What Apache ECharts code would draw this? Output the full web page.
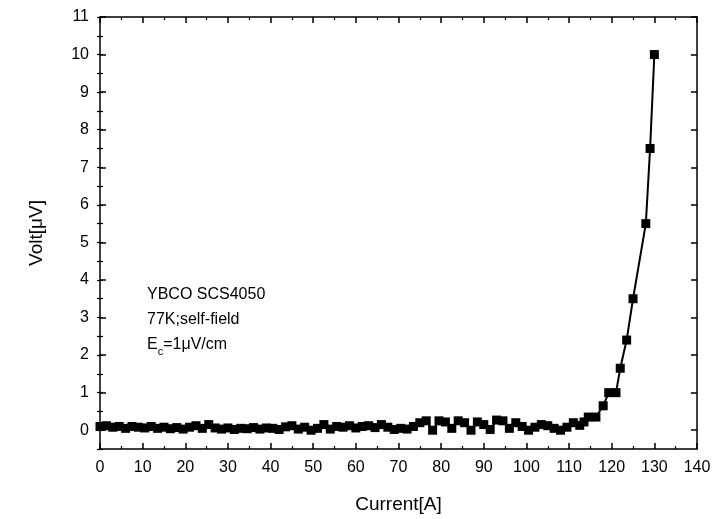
<!DOCTYPE html>
<html>
<head>
<meta charset="utf-8">
<script src="https://cdn.jsdelivr.net/npm/echarts@6/dist/echarts.min.js"></script>
<style>html,body{margin:0;padding:0;background:#fff;}#c{width:714px;height:519px;}</style>
</head>
<body>
<div id="c"></div>
<script>
var currents = [0,1.5,3,4.5,6,7.5,9,10.5,12,13.5,15,16.5,18,19.5,21,22.5,24,25.5,27,28.5,30,31.5,33,34.5,36,37.5,39,40.5,42,43.5,45,46.5,48,49.5,51,52.5,54,55.5,57,58.5,60,61.5,63,64.5,66,67.5,69,70.5,72,73.5,75,76.5,78,79.5,81,82.5,84,85.5,87,88.5,90,91.5,93,94.5,96,97.5,99,100.5,102,103.5,105,106.5,108,109.5,111,112.5,113.5,114.5,116.3,118,119.3,121,122,123.5,125,128,129,130];
var volts = [0.1,0.12,0.08,0.1,0.05,0.1,0.08,0.06,0.1,0.05,0.08,0.04,0.07,0.03,0.08,0.12,0.05,0.15,0.06,0.03,0.06,0.02,0.05,0.04,0.07,0.03,0.06,0.05,0.02,0.09,0.12,0.03,0.08,0.0,0.05,0.15,0.03,0.1,0.08,0.12,0.06,0.1,0.12,0.07,0.15,0.08,0.02,0.05,0.03,0.1,0.2,0.25,0.0,0.25,0.22,0.05,0.25,0.2,0.0,0.22,0.15,0.02,0.27,0.25,0.05,0.2,0.1,0.0,0.08,0.15,0.12,0.05,0.0,0.08,0.2,0.13,0.22,0.35,0.35,0.65,1.0,1.0,1.65,2.4,3.5,5.5,7.5,10.0];
var yTickValues = [0,1,2,3,4,5,6,7,8,9,10,11];
var annotationLines = ['YBCO SCS4050', '77K;self-field', 'E{sub|c}=1\u03bcV/cm'];

var points = currents.map(function (x, i) { return [x, volts[i]]; });
var font = '"Liberation Sans", Arial, sans-serif';
var axisLine = { show: true, onZero: false, lineStyle: { color: '#000', width: 1.5 } };

var chart = echarts.init(document.getElementById('c'), null, { renderer: 'canvas' });
chart.setOption({
  backgroundColor: '#fff',
  animation: false,
  grid: { left: 100, right: 17, top: 17, bottom: 58, containLabel: false },
  xAxis: [
    {
      type: 'value', position: 'bottom', min: 0, max: 140, interval: 10,
      name: 'Current[A]', nameLocation: 'middle', nameGap: 46,
      nameTextStyle: { fontFamily: font, fontSize: 19, color: '#000' },
      axisLine: axisLine,
      axisTick: { show: true, inside: true, length: 6, lineStyle: { color: '#000', width: 1.5 } },
      minorTick: { show: true, splitNumber: 2, length: 3, lineStyle: { color: '#000', width: 1.2 } },
      axisLabel: { fontFamily: font, fontSize: 16, color: '#000', margin: 11 },
      splitLine: { show: false }
    },
    {
      type: 'value', position: 'top', min: 0, max: 140, interval: 10,
      axisLine: axisLine,
      axisTick: { show: true, inside: true, length: 6, lineStyle: { color: '#000', width: 1.5 } },
      minorTick: { show: true, splitNumber: 2, length: 3, lineStyle: { color: '#000', width: 1.2 } },
      axisLabel: { show: false }, splitLine: { show: false }
    }
  ],
  yAxis: [
    {
      type: 'value', position: 'left', min: -0.5, max: 11,
      name: 'Volt[\u03bcV]', nameLocation: 'middle', nameGap: 54, nameRotate: 90,
      nameTextStyle: { fontFamily: font, fontSize: 19, color: '#000' },
      axisLine: axisLine,
      axisTick: { show: true, inside: true, length: 6, customValues: yTickValues, lineStyle: { color: '#000', width: 1.5 } },
      axisLabel: { fontFamily: font, fontSize: 16, color: '#000', margin: 11, customValues: yTickValues },
      splitLine: { show: false }
    },
    {
      type: 'value', position: 'right', min: -0.5, max: 11,
      axisLine: axisLine,
      axisTick: { show: true, inside: true, length: 6, customValues: yTickValues, lineStyle: { color: '#000', width: 1.5 } },
      axisLabel: { show: false }, splitLine: { show: false }
    },
    {
      type: 'value', position: 'left', min: -0.5, max: 11, interval: 0.5,
      axisLine: { show: false },
      axisTick: { show: true, inside: true, length: 3, lineStyle: { color: '#000', width: 1.2 } },
      axisLabel: { show: false }, splitLine: { show: false }
    },
    {
      type: 'value', position: 'right', min: -0.5, max: 11, interval: 0.5,
      axisLine: { show: false },
      axisTick: { show: true, inside: true, length: 3, lineStyle: { color: '#000', width: 1.2 } },
      axisLabel: { show: false }, splitLine: { show: false }
    }
  ],
  series: [
    {
      type: 'line', data: points, xAxisIndex: 0, yAxisIndex: 0,
      symbol: 'rect', symbolSize: 9,
      lineStyle: { color: '#000', width: 2 },
      itemStyle: { color: '#000' },
      silent: true, z: 5
    }
  ],
  graphic: [
    {
      type: 'text', left: 147, top: 282,
      style: {
        text: annotationLines.join('\n'),
        fontFamily: font, fontSize: 16, fill: '#000', lineHeight: 25,
        rich: {
          sub: { fontSize: 11, verticalAlign: 'bottom', padding: [8, 0, 0, 0], fontFamily: font, fill: '#000' }
        }
      }
    }
  ]
});
</script>
</body>
</html>
